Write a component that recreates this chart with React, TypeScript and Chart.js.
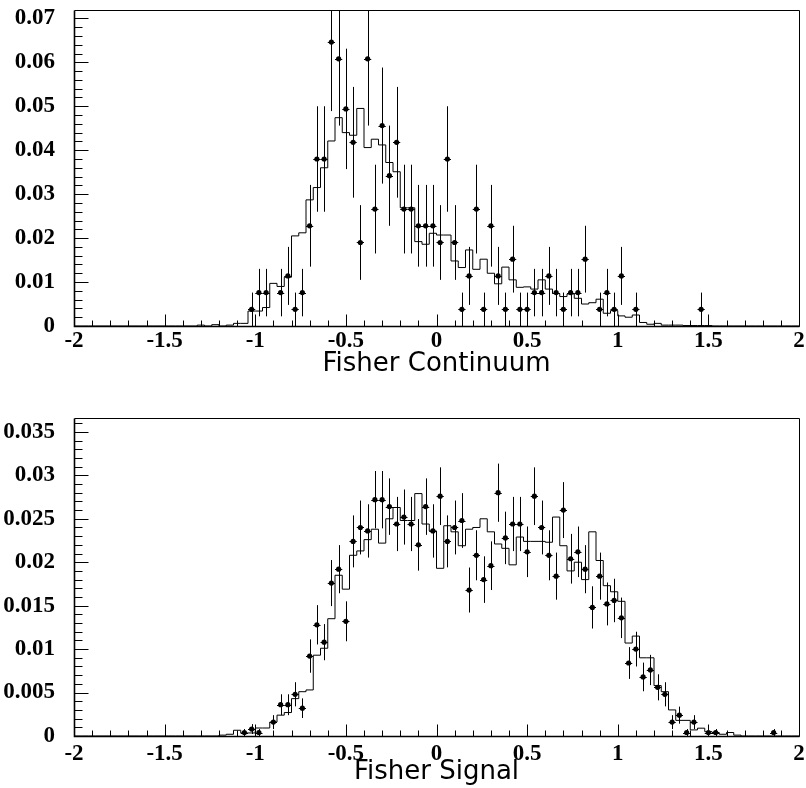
import React, { useEffect, useRef } from "react";
import { Chart, registerables } from "chart.js";
Chart.register(...registerables);

// ---------- shared axis / binning ----------
const X_MIN = -2;
const X_MAX = 2;
const BIN_WIDTH = 0.04;
const xTickValues = [-2, -1.5, -1, -0.5, 0, 0.5, 1, 1.5, 2];
const xTickLabels = ["-2", "-1.5", "-1", "-0.5", "0", "0.5", "1", "1.5", "2"];

// ---------- panel 1 : Fisher Continuum ----------
const contTitle = "Fisher Continuum";
const contYMax = 0.0719;
const contYTickValues = [0, 0.01, 0.02, 0.03, 0.04, 0.05, 0.06, 0.07];
const contYTickLabels = ["0", "0.01", "0.02", "0.03", "0.04", "0.05", "0.06", "0.07"];
// histogram contents, 100 bins from -2 to 2
const contHist = [
  0, 0, 0, 0, 0, 0, 0, 0, 0, 0,
  0, 0, 0, 0, 0, 0, 0, 0.0002, 0, 0.0003,
  0, 0.0002, 0.0006, 0.0006, 0.0034, 0.0034, 0.0042, 0.0097, 0.009, 0.0111,
  0.0205, 0.0212, 0.0287, 0.0315, 0.036, 0.0421, 0.0474, 0.044, 0.0434, 0.0495,
  0.0406, 0.0425, 0.0412, 0.0372, 0.0351, 0.0269, 0.0269, 0.0192, 0.0186, 0.0211,
  0.0207, 0.0207, 0.0148, 0.0133, 0.0173, 0.0129, 0.0152, 0.012, 0.0096, 0.0134,
  0.0105, 0.0088, 0.0089, 0.0084, 0.0105, 0.0084, 0.0074, 0.0067, 0.0073, 0.0063,
  0.005, 0.0053, 0.0061, 0.0029, 0.0035, 0.0023, 0.002, 0.0025, 0.0008, 0.0004,
  0.0006, 0.0002, 0.0002, 0.0002, 0.0001, 0.0001, 0.0001, 0.0001, 0, 0,
  0, 0, 0, 0, 0, 0, 0, 0, 0, 0,
];
const contPointX = [
  -1.02, -0.98, -0.94,
  -0.86, -0.82, -0.78, -0.74, -0.7, -0.66, -0.62, -0.58, -0.54, -0.5, -0.46, -0.42, -0.38, -0.34, -0.3, -0.26, -0.22, -0.18, -0.14, -0.1, -0.06, -0.02,
  0.02, 0.06, 0.1, 0.14, 0.18, 0.22, 0.26, 0.3, 0.34, 0.38, 0.42, 0.46, 0.5, 0.54, 0.58, 0.62, 0.66, 0.7, 0.74, 0.78, 0.82,
  0.9, 0.94, 0.98, 1.02,
  1.1, 1.46,
];
const contPointY = [
  0.0038, 0.0076, 0.0076,
  0.0076, 0.0114, 0.0038, 0.0076, 0.0228, 0.038, 0.038, 0.0646, 0.0608, 0.0494, 0.0418, 0.019, 0.0608, 0.0266, 0.0456, 0.0342, 0.0418, 0.0266, 0.0266, 0.0228, 0.0228, 0.0228,
  0.019, 0.038, 0.019, 0.0038, 0.0114, 0.0266, 0.0038, 0.0228, 0.0114, 0.0038, 0.0152, 0.0038, 0.0038, 0.0076, 0.0076, 0.0114, 0.0076, 0.0038, 0.0076, 0.0076, 0.0152,
  0.0038, 0.0076, 0.0038, 0.0114,
  0.0038, 0.0038,
];
const contPointErr = [
  0.0038, 0.0054, 0.0054,
  0.0054, 0.0066, 0.0038, 0.0054, 0.0093, 0.012, 0.012, 0.0157, 0.0152, 0.0137, 0.0126, 0.0085, 0.0152, 0.0101, 0.0132, 0.0114, 0.0126, 0.0101, 0.0101, 0.0093, 0.0093, 0.0093,
  0.0085, 0.012, 0.0085, 0.0038, 0.0066, 0.0101, 0.0038, 0.0093, 0.0066, 0.0038, 0.0076, 0.0038, 0.0038, 0.0054, 0.0054, 0.0066, 0.0054, 0.0038, 0.0054, 0.0054, 0.0076,
  0.0038, 0.0054, 0.0038, 0.0066,
  0.0038, 0.0038,
];

// ---------- panel 2 : Fisher Signal ----------
const sigTitle = "Fisher Signal";
const sigYMax = 0.0366;
const sigYTickValues = [0, 0.005, 0.01, 0.015, 0.02, 0.025, 0.03, 0.035];
const sigYTickLabels = ["0", "0.005", "0.01", "0.015", "0.02", "0.025", "0.03", "0.035"];
const sigHist = [
  0, 0, 0, 0, 0, 0, 0, 0, 0, 0,
  0, 0, 0, 0, 0, 0, 0, 0, 0, 0,
  0.0001, 0.0002, 0.00066, 0.00035, 0.00035, 0.00092, 0.00092, 0.0016, 0.0024, 0.0027,
  0.0043, 0.0051, 0.0053, 0.0093, 0.0101, 0.0135, 0.0185, 0.0169, 0.0208, 0.0213,
  0.0226, 0.0238, 0.0222, 0.025, 0.0263, 0.0248, 0.0248, 0.0279, 0.0244, 0.0236,
  0.0193, 0.0242, 0.0235, 0.0219, 0.0238, 0.024, 0.025, 0.0235, 0.0221, 0.0216,
  0.0197, 0.0229, 0.0224, 0.0224, 0.0224, 0.0223, 0.0252, 0.0219, 0.019, 0.02,
  0.018, 0.0235, 0.0202, 0.0173, 0.0166, 0.0155, 0.0107, 0.0115, 0.009, 0.009,
  0.0058, 0.0051, 0.003, 0.0018, 0.0018, 0.0007, 0.0009, 0.0005, 0.0004, 0.0002,
  0.0004, 0.0001, 0, 0, 0, 0, 0, 0, 0, 0,
];
const sigPointX = [
  -1.06, -1.02, -0.98,
  -0.9,
  -0.86, -0.82, -0.78, -0.74, -0.7, -0.66, -0.62, -0.58, -0.54, -0.5, -0.46, -0.42, -0.38, -0.34, -0.3, -0.26, -0.22, -0.18, -0.14, -0.1, -0.06, -0.02,
  0.02, 0.06, 0.1, 0.14, 0.18, 0.22, 0.26, 0.3, 0.34, 0.38,
  0.42, 0.46, 0.5, 0.54, 0.58, 0.62, 0.66, 0.7, 0.74, 0.78,
  0.82, 0.86, 0.9, 0.94, 0.98, 1.02, 1.06, 1.1, 1.14, 1.18,
  1.22, 1.26, 1.3, 1.34, 1.38, 1.42,
  1.5, 1.54, 1.86,
];
const sigPointY = [
  0.0004, 0.0008, 0.0004,
  0.0016,
  0.0036, 0.0036, 0.0048, 0.0032, 0.0092, 0.0128, 0.0108, 0.0176, 0.0192, 0.0132, 0.0224, 0.024, 0.0236, 0.0272, 0.0272, 0.0264, 0.0244, 0.0252, 0.0244, 0.022, 0.0264, 0.0236,
  0.0276, 0.0224, 0.024, 0.0248, 0.0168, 0.0208, 0.018, 0.0196, 0.028, 0.0228,
  0.0244, 0.0244, 0.0212, 0.0276, 0.024, 0.0208, 0.0184, 0.026, 0.0204, 0.0212,
  0.0192, 0.0148, 0.0184, 0.0152, 0.0156, 0.0136, 0.0084, 0.01, 0.0068, 0.0076,
  0.0056, 0.0048, 0.0016, 0.0024, 0.0004, 0.0016,
  0.0004, 0.0004, 0.0004,
];
const sigPointErr = [
  0.0004, 0.00057, 0.0004,
  0.0008,
  0.0012, 0.0012, 0.00139, 0.00113, 0.00192, 0.00226, 0.00208, 0.00265, 0.00277, 0.0023, 0.00299, 0.0031, 0.00307, 0.0033, 0.0033, 0.00325, 0.00312, 0.00317, 0.00312, 0.00297, 0.00325, 0.00307,
  0.00332, 0.00299, 0.0031, 0.00315, 0.00259, 0.00288, 0.00268, 0.0028, 0.00335, 0.00302,
  0.00312, 0.00312, 0.00291, 0.00332, 0.0031, 0.00288, 0.00271, 0.00322, 0.00286, 0.00291,
  0.00277, 0.00243, 0.00271, 0.00247, 0.0025, 0.00233, 0.00183, 0.002, 0.00165, 0.00174,
  0.0015, 0.00139, 0.0008, 0.00098, 0.0004, 0.0008,
  0.0004, 0.0004, 0.0004,
];

// ---------- styling ----------
const TICK_FONT = { family: "'Liberation Serif', 'Times New Roman', serif", size: 23, weight: "bold" as const };
const TITLE_FONT = { family: "'DejaVu Sans', sans-serif", size: 26, weight: "normal" as const };
const CANVAS_W = 806;
const CANVAS_H = 394;

type Panel = {
  title: string;
  hist: number[];
  px: number[];
  py: number[];
  pe: number[];
  yMax: number;
  yTickValues: number[];
  yTickLabels: string[];
  yMajor: number;
  yMinor: number;
  padTop: number;
  axisHeight: number;
  titlePadBottom: number;
  xLabelPad: number;
};

function isMultiple(v: number, step: number) {
  const r = v / step;
  return Math.abs(r - Math.round(r)) < 1e-6;
}

function buildChart(canvas: HTMLCanvasElement, p: Panel) {
  const histData = p.hist.map((h, k) => ({ x: X_MIN + k * BIN_WIDTH, y: h }));
  histData.push({ x: X_MAX, y: p.hist[p.hist.length - 1] });
  const points = p.px.map((x, i) => ({ x, y: p.py[i] }));

  const deco = {
    id: "rootDeco",
    beforeDatasetsDraw(chart: any) {
      const { ctx, chartArea: a, scales } = chart;
      const xs = scales.x;
      const ys = scales.y;
      ctx.save();
      ctx.beginPath();
      ctx.rect(a.left, a.top, a.right - a.left, a.bottom - a.top);
      ctx.clip();
      ctx.beginPath();
      ctx.strokeStyle = "#000";
      ctx.lineWidth = 1;
      p.px.forEach((xv, i) => {
        const cx = Math.round(xs.getPixelForValue(xv)) + 0.5;
        const cy = Math.round(ys.getPixelForValue(p.py[i])) + 0.5;
        ctx.moveTo(cx, ys.getPixelForValue(p.py[i] - p.pe[i]));
        ctx.lineTo(cx, ys.getPixelForValue(p.py[i] + p.pe[i]));
        ctx.moveTo(xs.getPixelForValue(xv - BIN_WIDTH / 2), cy);
        ctx.lineTo(xs.getPixelForValue(xv + BIN_WIDTH / 2), cy);
      });
      ctx.stroke();
      ctx.restore();
    },
    afterDraw(chart: any) {
      const { ctx, chartArea: a, scales } = chart;
      const xs = scales.x;
      const ys = scales.y;
      const L = Math.round(a.left) + 0.5;
      const R = Math.round(a.right) + 0.5;
      const T = Math.round(a.top) + 0.5;
      const B = Math.round(a.bottom) + 0.5;
      ctx.save();
      ctx.strokeStyle = "#000";
      ctx.lineWidth = 1;
      ctx.beginPath();
      ctx.moveTo(L, T);
      ctx.lineTo(R, T);
      ctx.lineTo(R, B);
      ctx.stroke();
      ctx.lineWidth = 1.6;
      ctx.beginPath();
      ctx.moveTo(L, T);
      ctx.lineTo(L, B);
      ctx.lineTo(R, B);
      ctx.stroke();
      // inward ticks
      ctx.lineWidth = 1;
      ctx.beginPath();
      for (let i = 0; ; i++) {
        const v = X_MIN + i * 0.1;
        if (v > X_MAX + 1e-9) break;
        const x = Math.round(xs.getPixelForValue(v)) + 0.5;
        const len = isMultiple(v, 0.5) ? 12 : 6;
        ctx.moveTo(x, B);
        ctx.lineTo(x, B - len);
      }
      for (let i = 0; ; i++) {
        const v = i * p.yMinor;
        if (v > p.yMax + 1e-9) break;
        const y = Math.round(ys.getPixelForValue(v)) + 0.5;
        const len = isMultiple(v, p.yMajor) ? 14 : 8;
        ctx.moveTo(L, y);
        ctx.lineTo(L + len, y);
      }
      ctx.stroke();
      ctx.restore();
    },
  };

  return new Chart(canvas, {
    type: "scatter",
    data: {
      datasets: [
        {
          type: "scatter",
          data: points,
          pointRadius: 2.6,
          pointStyle: "circle",
          pointBackgroundColor: "#000",
          pointBorderColor: "#000",
          pointBorderWidth: 0,
          showLine: false,
        } as any,
        {
          type: "line",
          data: histData,
          stepped: "before",
          borderColor: "#000",
          borderWidth: 1,
          pointRadius: 0,
          fill: false,
          tension: 0,
        } as any,
      ],
    },
    options: {
      animation: false,
      responsive: false,
      devicePixelRatio: 1,
      events: [],
      layout: { padding: { top: p.padTop, right: 7, left: 0, bottom: 0 } },
      plugins: { legend: { display: false }, tooltip: { enabled: false } },
      scales: {
        x: {
          type: "linear",
          min: X_MIN,
          max: X_MAX,
          grid: { display: false, drawTicks: false },
          border: { display: false },
          afterBuildTicks: (s: any) => {
            s.ticks = xTickValues.map((v) => ({ value: v }));
          },
          afterFit: (s: any) => {
            s.height = p.axisHeight;
            s.paddingLeft = 0;
            s.paddingRight = 0;
          },
          ticks: {
            callback: (_v: any, i: number) => xTickLabels[i],
            font: TICK_FONT,
            color: "#000",
            padding: p.xLabelPad,
            maxRotation: 0,
            minRotation: 0,
            autoSkip: false,
          },
          title: {
            display: true,
            text: p.title,
            font: TITLE_FONT,
            color: "#000",
            padding: { top: 0, bottom: p.titlePadBottom },
          },
        },
        y: {
          type: "linear",
          min: 0,
          max: p.yMax,
          grid: { display: false, drawTicks: false },
          border: { display: false },
          afterBuildTicks: (s: any) => {
            s.ticks = p.yTickValues.map((v) => ({ value: v }));
          },
          afterFit: (s: any) => {
            s.width = 74;
            s.paddingTop = 0;
            s.paddingBottom = 0;
          },
          ticks: {
            callback: (_v: any, i: number) => p.yTickLabels[i],
            font: TICK_FONT,
            color: "#000",
            padding: 19,
            autoSkip: false,
          },
        },
      },
    } as any,
    plugins: [deco],
  });
}

export default function App() {
  const ref1 = useRef<HTMLCanvasElement>(null);
  const ref2 = useRef<HTMLCanvasElement>(null);

  useEffect(() => {
    const c1 = buildChart(ref1.current!, {
      title: contTitle,
      hist: contHist,
      px: contPointX,
      py: contPointY,
      pe: contPointErr,
      yMax: contYMax,
      yTickValues: contYTickValues,
      yTickLabels: contYTickLabels,
      yMajor: 0.01,
      yMinor: 0.002,
      padTop: 10,
      axisHeight: 68,
      titlePadBottom: 14,
      xLabelPad: 1,
    });
    const c2 = buildChart(ref2.current!, {
      title: sigTitle,
      hist: sigHist,
      px: sigPointX,
      py: sigPointY,
      pe: sigPointErr,
      yMax: sigYMax,
      yTickValues: sigYTickValues,
      yTickLabels: sigYTickLabels,
      yMajor: 0.005,
      yMinor: 0.001,
      padTop: 24,
      axisHeight: 52,
      titlePadBottom: 0,
      xLabelPad: 4,
    });
    return () => {
      c1.destroy();
      c2.destroy();
    };
  }, []);

  return (
    <div style={{ position: "absolute", left: 0, top: 0, width: CANVAS_W, height: CANVAS_H * 2, background: "#fff" }}>
      <canvas ref={ref1} width={CANVAS_W} height={CANVAS_H} style={{ position: "absolute", left: 0, top: 0 }} />
      <canvas ref={ref2} width={CANVAS_W} height={CANVAS_H} style={{ position: "absolute", left: 0, top: CANVAS_H }} />
    </div>
  );
}
